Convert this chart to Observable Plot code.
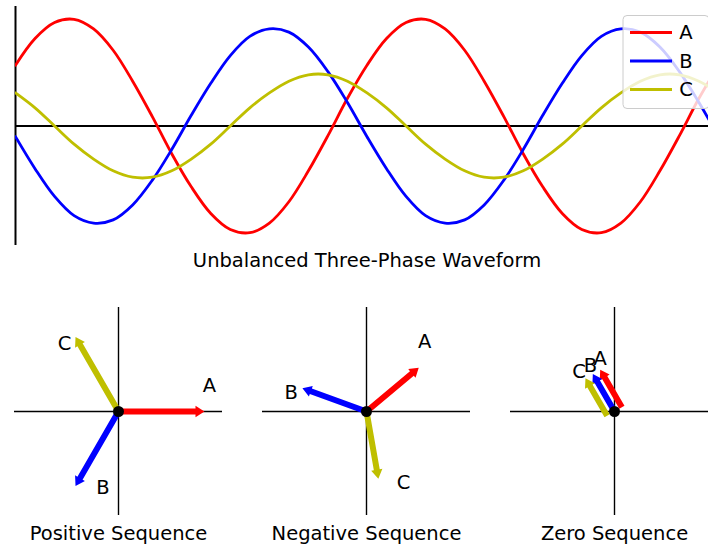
<!DOCTYPE html>
<html>
<head>
<meta charset="utf-8">
<script src="https://cdn.jsdelivr.net/npm/d3@7"></script>
<script src="https://cdn.jsdelivr.net/npm/@observablehq/plot@0.6"></script>
<style>
  html, body { margin: 0; padding: 0; background: #ffffff; overflow: hidden; }
  #fig { position: relative; width: 708px; height: 551px; overflow: hidden; font-family: "DejaVu Sans", sans-serif; }
  #fig svg { position: absolute; max-width: none !important; overflow: visible; background: transparent; }
</style>
</head>
<body>
<div id="fig"></div>
<script>
// ---- Waveform samples (electrical angle in degrees, per-unit values) ----
const angle = [0, 20, 40, 60, 80, 100, 120, 140, 160, 180, 200, 220, 240, 260, 280, 300, 320, 340,
               360, 380, 400, 420, 440, 460, 480, 500, 520, 540, 560, 580, 600, 620, 640, 660, 680, 700, 720];
const phaseA = [0.57, 0.82, 0.97, 1.00, 0.91, 0.71, 0.42, 0.09, -0.26, -0.57, -0.82, -0.97, -1.00, -0.91, -0.71, -0.42, -0.09, 0.26,
                0.57, 0.82, 0.97, 1.00, 0.91, 0.71, 0.42, 0.09, -0.26, -0.57, -0.82, -0.97, -1.00, -0.91, -0.71, -0.42, -0.09, 0.26, 0.57];
const phaseB = [-0.10, -0.40, -0.66, -0.84, -0.91, -0.88, -0.74, -0.51, -0.22, 0.10, 0.40, 0.66, 0.84, 0.91, 0.88, 0.74, 0.51, 0.22,
                -0.10, -0.40, -0.66, -0.84, -0.91, -0.88, -0.74, -0.51, -0.22, 0.10, 0.40, 0.66, 0.84, 0.91, 0.88, 0.74, 0.51, 0.22, -0.10];
const phaseC = [0.31, 0.17, 0.00, -0.17, -0.31, -0.42, -0.48, -0.48, -0.42, -0.31, -0.17, 0.00, 0.17, 0.31, 0.42, 0.48, 0.48, 0.42,
                0.31, 0.17, 0.00, -0.17, -0.31, -0.42, -0.48, -0.48, -0.42, -0.31, -0.17, 0.00, 0.17, 0.31, 0.42, 0.48, 0.48, 0.42, 0.31];

const phaseNames = ["A", "B", "C"];
const phaseColors = ["#ff0000", "#0000ff", "#bfbf00"];

// ---- Symmetrical components: magnitude (per unit) and angle (degrees) for A, B, C ----
const positiveMag = [0.605, 0.605, 0.605];
const positiveAng = [0, -120, 120];
const negativeMag = [0.48, 0.48, 0.48];
const negativeAng = [40, 160, -80];
const zeroMag = [0.305, 0.305, 0.305];
const zeroAng = [120, 120, 120];

// Phasor label anchors (per-unit coordinates) for A, B, C
const positiveLabelX = [0.64, -0.11, -0.38];
const positiveLabelY = [0.18, -0.54, 0.48];
const negativeLabelX = [0.41, -0.53, 0.26];
const negativeLabelY = [0.49, 0.13, -0.50];
const zeroLabelX = [-0.10, -0.17, -0.25];
const zeroLabelY = [0.37, 0.32, 0.28];

const FONT = 19.5;
const fig = document.getElementById("fig");
const svgStyle = {fontFamily: "DejaVu Sans, sans-serif", background: "transparent", maxWidth: "none", overflow: "visible"};

// ---- Waveform panel ----
const waveRows = [];
[phaseA, phaseB, phaseC].forEach((series, k) => {
  series.forEach((v, i) => waveRows.push({angle: angle[i], value: v, phase: phaseNames[k]}));
});

function waveLegend(index, scales, values, dimensions) {
  const g = d3.create("svg:g");
  const right = dimensions.width - dimensions.marginRight;
  const x0 = right - 95;
  const y0 = dimensions.marginTop + 9.5;
  g.append("rect")
    .attr("x", x0).attr("y", y0).attr("width", 86).attr("height", 93).attr("rx", 4)
    .attr("fill", "#ffffff").attr("fill-opacity", 0.8)
    .attr("stroke", "#cccccc").attr("stroke-width", 1);
  phaseNames.forEach((name, i) => {
    const y = y0 + 17 + i * 28.5;
    g.append("line")
      .attr("x1", x0 + 7).attr("x2", x0 + 49).attr("y1", y).attr("y2", y)
      .attr("stroke", phaseColors[i]).attr("stroke-width", 2.8);
    g.append("text")
      .attr("x", x0 + 63).attr("y", y).attr("dy", "0.35em")
      .attr("font-size", FONT).attr("fill", "#000").text(name);
  });
  return g.node();
}

const wave = Plot.plot({
  width: 718,
  height: 275,
  marginLeft: 15,
  marginRight: 0,
  marginTop: 6,
  marginBottom: 30,
  style: svgStyle,
  x: {domain: [0, 720], axis: null},
  y: {domain: [-1.12, 1.12], axis: null},
  color: {domain: phaseNames, range: phaseColors},
  marks: [
    Plot.ruleX([0], {stroke: "#000", strokeWidth: 2}),
    Plot.ruleY([0], {stroke: "#000", strokeWidth: 2}),
    Plot.line(waveRows, {x: "angle", y: "value", stroke: "phase", z: "phase", strokeWidth: 2.8, curve: "catmull-rom", clip: true}),
    waveLegend,
    Plot.text(["Unbalanced Three-Phase Waveform"], {text: d => d, frameAnchor: "bottom", lineAnchor: "middle", dy: 15.5, fontSize: FONT, fill: "#000"})
  ]
});
wave.style.left = "0px";
wave.style.top = "0px";
fig.appendChild(wave);

// ---- Phasor panels ----
const R = 0.732;              // half-extent of each phasor axis (per unit)
const shaftW = 0.042, headW = 0.08, headL = 0.063;

function arrowPolygons(mags, angs, spread) {
  const pts = [];
  mags.forEach((m, i) => {
    const t = angs[i] * Math.PI / 180;
    const ux = Math.cos(t), uy = Math.sin(t);
    const nx = -uy, ny = ux;
    const off = (i - 1) * spread;          // side-by-side offset for coincident phasors
    const tx = off * nx, ty = off * ny;    // tail
    const px = tx + m * ux, py = ty + m * uy;   // tip
    const kx = px - headL * ux, ky = py - headL * uy;  // base of head
    const poly = [
      [tx + nx * shaftW / 2, ty + ny * shaftW / 2],
      [kx + nx * shaftW / 2, ky + ny * shaftW / 2],
      [kx + nx * headW / 2, ky + ny * headW / 2],
      [px, py],
      [kx - nx * headW / 2, ky - ny * headW / 2],
      [kx - nx * shaftW / 2, ky - ny * shaftW / 2],
      [tx - nx * shaftW / 2, ty - ny * shaftW / 2]
    ];
    poly.forEach(([x, y]) => pts.push({x, y, phase: phaseNames[i]}));
  });
  return pts;
}

function phasorPanel({title, mags, angs, labelX, labelY, spread, cx}) {
  const labels = phaseNames.map((name, i) => ({name, x: labelX[i], y: labelY[i]}));
  const p = Plot.plot({
    width: 208,
    height: 248,
    marginLeft: 0,
    marginRight: 0,
    marginTop: 0,
    marginBottom: 40,
    style: svgStyle,
    x: {domain: [-R, R], axis: null},
    y: {domain: [-R, R], axis: null},
    color: {domain: phaseNames, range: phaseColors},
    marks: [
      Plot.ruleX([0], {stroke: "#000", strokeWidth: 1.4}),
      Plot.ruleY([0], {stroke: "#000", strokeWidth: 1.4}),
      Plot.line(arrowPolygons(mags, angs, spread), {x: "x", y: "y", z: "phase", fill: "phase", stroke: "none", curve: "linear-closed"}),
      Plot.dot([{x: 0, y: 0}], {x: "x", y: "y", r: 5.5, fill: "#000", stroke: "none"}),
      Plot.text(labels, {x: "x", y: "y", text: "name", fontSize: FONT, fill: "#000"}),
      Plot.text([title], {text: d => d, frameAnchor: "bottom", lineAnchor: "middle", dy: 18, fontSize: FONT, fill: "#000"})
    ]
  });
  p.style.left = (cx - 104) + "px";
  p.style.top = "307px";
  fig.appendChild(p);
}

phasorPanel({title: "Positive Sequence", mags: positiveMag, angs: positiveAng,
             labelX: positiveLabelX, labelY: positiveLabelY, spread: 0, cx: 118});
phasorPanel({title: "Negative Sequence", mags: negativeMag, angs: negativeAng,
             labelX: negativeLabelX, labelY: negativeLabelY, spread: 0, cx: 366});
phasorPanel({title: "Zero Sequence", mags: zeroMag, angs: zeroAng,
             labelX: zeroLabelX, labelY: zeroLabelY, spread: 0.06, cx: 614});
</script>
</body>
</html>
